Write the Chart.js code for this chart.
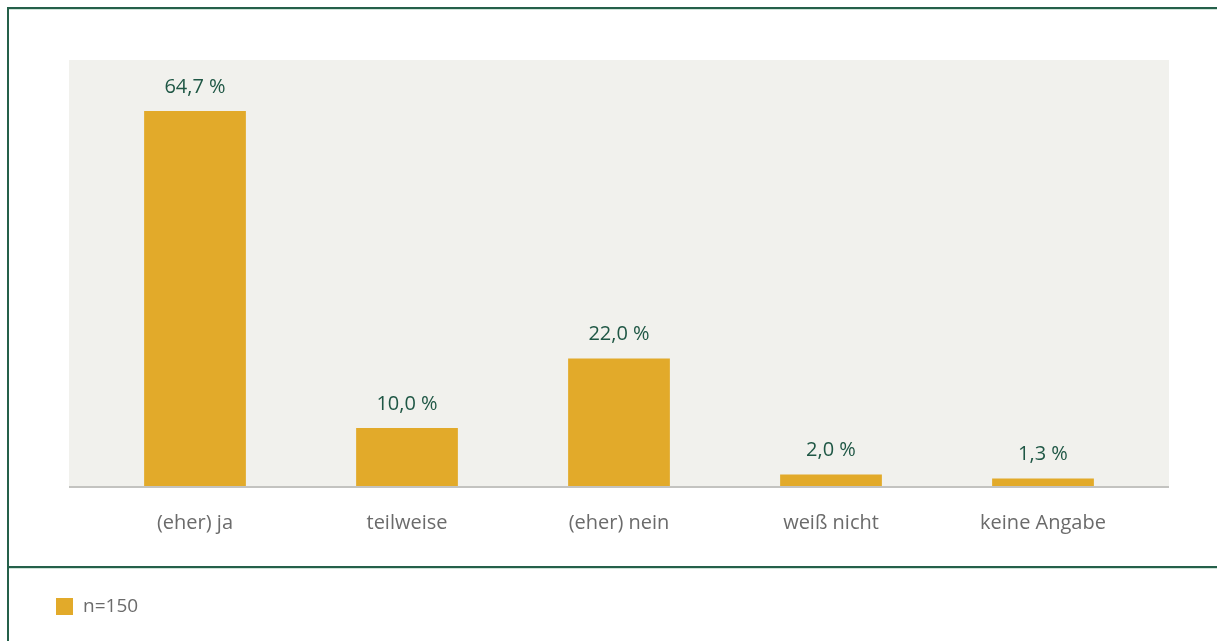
<!DOCTYPE html>
<html>
<head>
<meta charset="utf-8">
<script src="https://cdn.jsdelivr.net/npm/chart.js@4"></script>
<style>
html,body{margin:0;padding:0;background:#fff;}
#wrap{position:relative;width:1217px;height:641px;}
</style>
</head>
<body>
<div id="wrap"><canvas id="c" width="1217" height="641"></canvas></div>
<script>
const categories = ["(eher) ja", "teilweise", "(eher) nein", "weiß nicht", "keine Angabe"];
const values = [64.7, 10.0, 22.0, 2.0, 1.3];
const valueLabels = ["64,7 %", "10,0 %", "22,0 %", "2,0 %", "1,3 %"];
const seriesName = "n=150";

const FONT = "'Open Sans', 'Noto Sans', sans-serif";
const GREEN = "#25604a";
const BAR = "#e2aa2a";

const framePlugin = {
  id: 'frame',
  beforeDraw(chart) {
    const ctx = chart.ctx, a = chart.chartArea;
    ctx.save();
    ctx.fillStyle = '#fff';
    ctx.fillRect(0, 0, chart.width, chart.height);
    ctx.fillStyle = '#f1f1ed';
    ctx.fillRect(a.left - 20, a.top, (a.right - a.left) + 40, a.bottom - a.top);
    ctx.fillStyle = GREEN;
    ctx.fillRect(7, 7, chart.width - 7, 2);
    ctx.fillRect(7, 7, 2, chart.height - 7);
    ctx.fillRect(7, 566, chart.width - 7, 2);
    ctx.fillStyle = '#cfe3d8';
    ctx.fillRect(9, 9, chart.width - 9, 1);
    ctx.fillRect(9, 568, chart.width - 9, 1);
    ctx.restore();
  },
  afterDatasetsDraw(chart) {
    const ctx = chart.ctx, a = chart.chartArea;
    ctx.save();
    ctx.fillStyle = '#c3c3c0';
    ctx.fillRect(a.left - 20, a.bottom, (a.right - a.left) + 40, 2);
    const meta = chart.getDatasetMeta(0);
    ctx.fillStyle = '#1f5745';
    ctx.font = "20px " + FONT;
    ctx.textAlign = 'center';
    ctx.textBaseline = 'middle';
    meta.data.forEach((bar, i) => {
      ctx.fillText(valueLabels[i], bar.x, bar.y - 24);
    });
    ctx.fillStyle = BAR;
    ctx.fillRect(56, 598, 17, 17);
    ctx.fillStyle = '#6b6b6b';
    ctx.textAlign = 'left';
    ctx.font = "19px " + FONT;
    ctx.fillText(chart.data.datasets[0].label, 83, 607);
    ctx.restore();
  }
};

new Chart(document.getElementById('c'), {
  type: 'bar',
  data: {
    labels: categories,
    datasets: [{
      label: seriesName,
      data: values,
      backgroundColor: BAR,
      barPercentage: 0.96,
      categoryPercentage: 0.5
    }]
  },
  options: {
    responsive: false,
    animation: false,
    devicePixelRatio: 1,
    layout: { padding: { left: 89, right: 68, top: 60, bottom: 81 } },
    plugins: { legend: { display: false }, tooltip: { enabled: false } },
    scales: {
      y: { display: false, min: 0, max: 73.5 },
      x: {
        grid: { display: false, drawTicks: false },
        border: { display: false },
        ticks: { color: '#6b6b6b', font: { family: FONT, size: 20 }, padding: 25 }
      }
    }
  },
  plugins: [framePlugin]
});
</script>
</body>
</html>
